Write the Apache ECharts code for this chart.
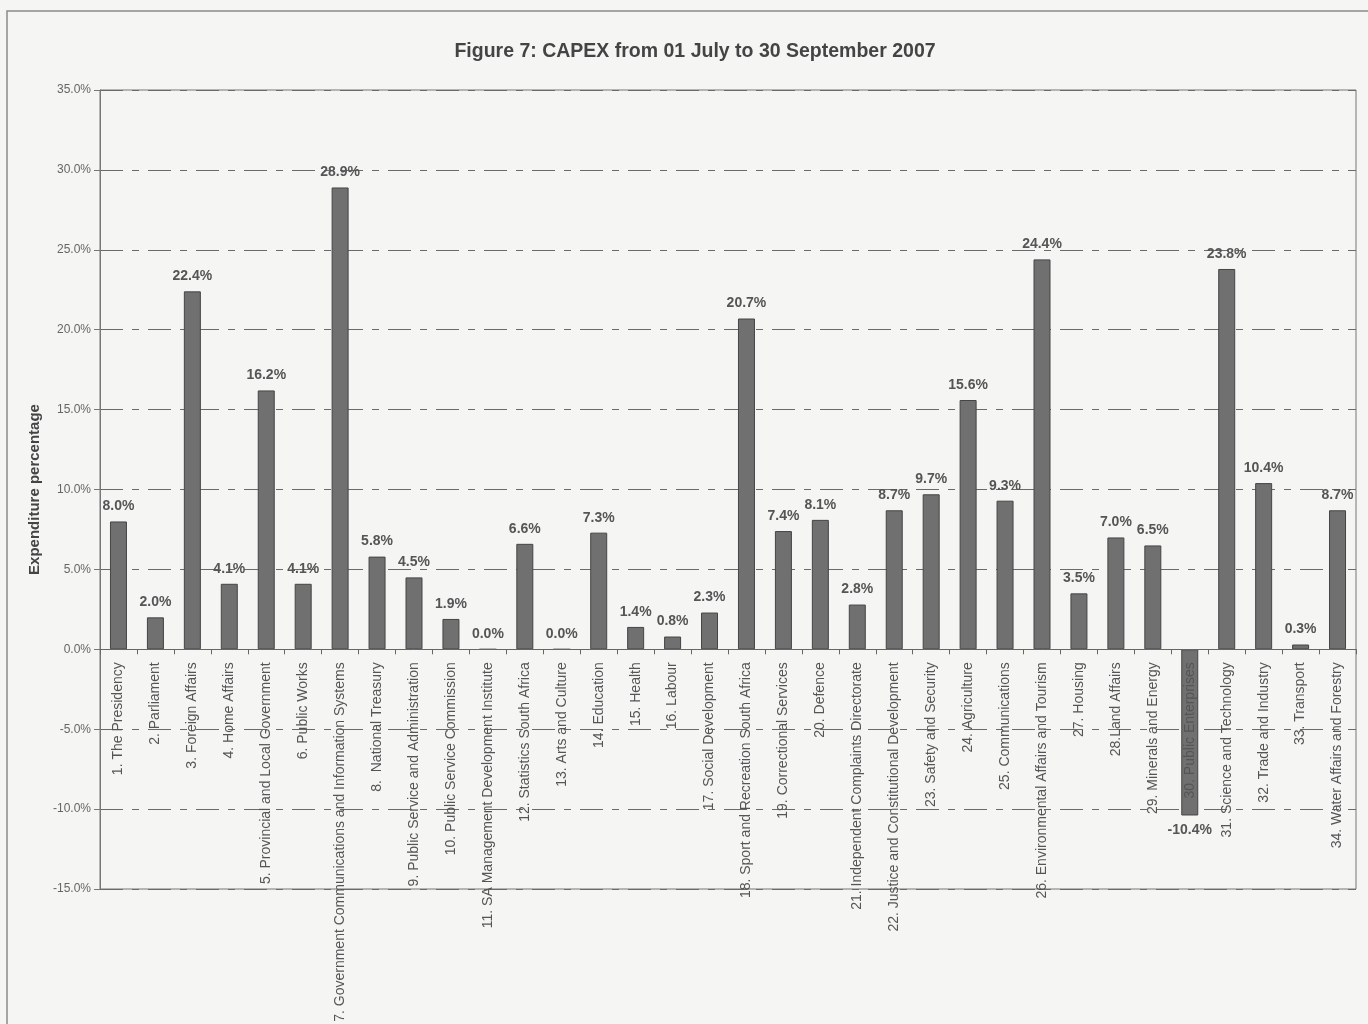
<!DOCTYPE html>
<html>
<head>
<meta charset="utf-8">
<script src="https://cdn.jsdelivr.net/npm/echarts@6/dist/echarts.min.js"></script>
<style>
  html, body { margin: 0; padding: 0; background: #f5f5f4; }
  #chart { width: 1368px; height: 1024px; }
</style>
</head>
<body>
<div id="chart"></div>
<script>
// Departments (x categories) and their capital expenditure share for the quarter
const departments = [
  '1. The Presidency',
  '2. Parliament',
  '3. Foreign Affairs',
  '4. Home Affairs',
  '5. Provincial and Local Government',
  '6. Public Works',
  '7. Government Communications and Information Systems',
  '8.  National Treasury',
  '9. Public Service and Administration',
  '10. Public Service Commission',
  '11. SA Management Development Institute',
  '12. Statistics South Africa',
  '13. Arts and Culture',
  '14. Education',
  '15. Health',
  '16. Labour',
  '17. Social Development',
  '18. Sport and Recreation South Africa',
  '19. Correctional Services',
  '20. Defence',
  '21. Independent Complaints Directorate',
  '22. Justice and Constitutional Development',
  '23. Safety and Security',
  '24. Agriculture',
  '25. Communications',
  '26. Environmental Affairs and Tourism',
  '27. Housing',
  '28.Land Affairs',
  '29. Minerals and Energy',
  '30. Public Enterprises',
  '31. Science and Technology',
  '32. Trade and Industry',
  '33. Transport',
  '34. Water Affairs and Forestry'
];

const capexPct = [
  8.0, 2.0, 22.4, 4.1, 16.2, 4.1, 28.9, 5.8, 4.5, 1.9,
  0.0, 6.6, 0.0, 7.3, 1.4, 0.8, 2.3, 20.7, 7.4, 8.1,
  2.8, 8.7, 9.7, 15.6, 9.3, 24.4, 3.5, 7.0, 6.5, -10.4,
  23.8, 10.4, 0.3, 8.7
];

// Value axis range and step
const yMin = -15;
const yMax = 35;
const yStep = 5;

const FONT = 'Liberation Sans, Arial, sans-serif';
const W = 1368, H = 1024;
const GRID = { left: 100, right: 12, top: 90, bottom: 135 };

// The category axis (line, ticks and names) sits on the zero line of the value axis
const plotHeight = H - GRID.top - GRID.bottom;
const zeroOffset = -(0 - yMin) / (yMax - yMin) * plotHeight;

const chart = echarts.init(document.getElementById('chart'), null, { renderer: 'canvas', width: W, height: H });

// Negative bars carry their label beneath the bar
const barData = capexPct.map(v => ({
  value: v,
  label: { position: v < 0 ? 'bottom' : 'top' }
}));

chart.setOption({
  backgroundColor: '#f5f5f4',
  animation: false,
  textStyle: { fontFamily: FONT },
  graphic: [{
    type: 'rect',
    z: -10,
    shape: { x: 7, y: 11, width: 1400, height: 1100 },
    style: { fill: 'none', stroke: '#8a8a8a', lineWidth: 1.5 }
  }],
  title: {
    text: 'Figure 7: CAPEX from 01 July to 30 September 2007',
    left: 690,
    textAlign: 'center',
    top: 37,
    textStyle: {
      fontSize: 19.5,
      fontWeight: 'bold',
      color: '#444',
      fontFamily: FONT
    }
  },
  grid: {
    left: GRID.left,
    right: GRID.right,
    top: GRID.top,
    bottom: GRID.bottom,
    outerBoundsMode: 'none',
    containLabel: false,
    show: true,
    borderColor: '#777',
    borderWidth: 1,
    backgroundColor: 'transparent'
  },
  xAxis: {
    type: 'category',
    data: departments,
    z: 10,
    position: 'bottom',
    offset: zeroOffset,
    axisLine: { onZero: false, lineStyle: { color: '#666', width: 1 } },
    axisTick: { show: true, length: 5, lineStyle: { color: '#666' } },
    axisLabel: {
      rotate: 90,
      interval: 0,
      margin: 13,
      fontSize: 14,
      color: '#555',
      fontFamily: FONT,
      hideOverlap: false
    },
    splitLine: { show: false }
  },
  yAxis: {
    type: 'value',
    min: yMin,
    max: yMax,
    interval: yStep,
    name: 'Expenditure percentage',
    nameLocation: 'middle',
    nameGap: 53,
    nameTextStyle: {
      fontSize: 15,
      fontWeight: 'bold',
      color: '#444',
      fontFamily: FONT
    },
    axisLine: { show: true, lineStyle: { color: '#777' } },
    axisTick: { show: true, length: 6, lineStyle: { color: '#777' } },
    axisLabel: {
      fontSize: 12,
      color: '#666',
      margin: 9,
      formatter: v => v.toFixed(1) + '%'
    },
    splitLine: {
      show: true,
      lineStyle: { color: '#6a6a6a', width: 1, type: [23, 9, 7, 9] }
    }
  },
  series: [{
    type: 'bar',
    data: barData,
    barWidth: 17,
    itemStyle: { color: '#707070', borderColor: '#454545', borderWidth: 1 },
    label: {
      show: true,
      distance: 8,
      fontSize: 14,
      fontWeight: 'bold',
      color: '#555',
      fontFamily: FONT,
      formatter: p => p.value.toFixed(1) + '%'
    }
  }]
});
</script>
</body>
</html>
